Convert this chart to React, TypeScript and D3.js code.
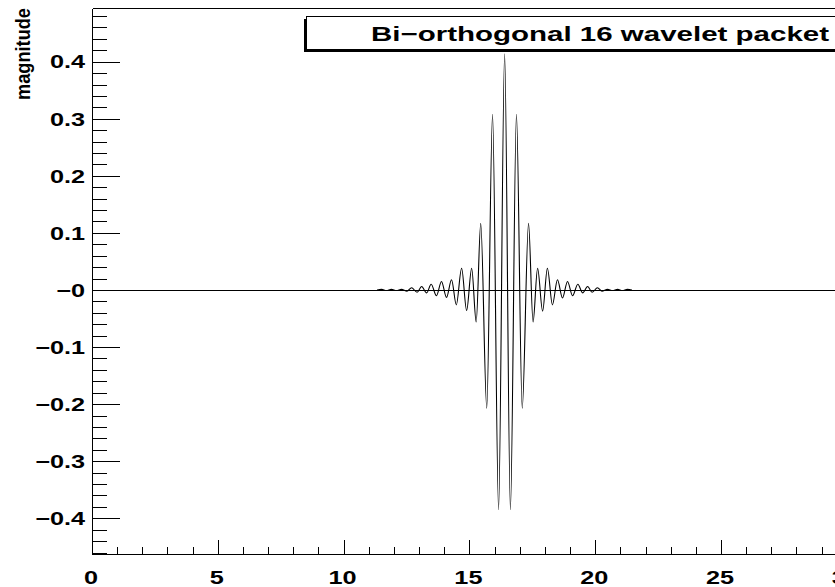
import React from 'react';
import * as d3 from 'd3';

// Extrema of the wavelet packet (x in axis units, y = magnitude)
const packetX = [
  11.33, 11.51, 11.7, 11.9, 12.1, 12.3, 12.52, 12.7, 12.92, 13.1,
  13.3, 13.48, 13.69, 13.89, 14.09, 14.29, 14.48, 14.69, 14.89, 15.09,
  15.27, 15.45, 15.69, 15.92, 16.16, 16.4, 16.63, 16.87, 17.1, 17.35,
  17.53, 17.71, 17.91, 18.1, 18.3, 18.5, 18.7, 18.9, 19.1, 19.31,
  19.5, 19.7, 19.88, 20.09, 20.27, 20.49, 20.69, 20.89, 21.08, 21.28, 21.46,
];
const packetY = [
  0, 0.001, -0.001, 0.001, -0.001, 0.001, -0.002, 0.004, -0.004, 0.006,
  -0.005, 0.01, -0.01, 0.015, -0.013, 0.018, -0.026, 0.038, -0.036, 0.038,
  -0.056, 0.117, -0.207, 0.308, -0.385, 0.414, -0.385, 0.308, -0.207, 0.117,
  -0.056, 0.038, -0.037, 0.038, -0.026, 0.018, -0.014, 0.015, -0.01, 0.01,
  -0.005, 0.006, -0.004, 0.004, -0.002, 0.001, -0.001, 0.001, -0.001, 0.001, 0,
];

const xMajorTicks = [0, 5, 10, 15, 20, 25, 30];
const xTickLabels = ['0', '5', '10', '15', '20', '25', '30'];
const yMajorTicks = [-0.4, -0.3, -0.2, -0.1, 0, 0.1, 0.2, 0.3, 0.4];
const yTickLabels = ['−0.4', '−0.3', '−0.2', '−0.1', '−0', '0.1', '0.2', '0.3', '0.4'];
const titleText = 'Bi−orthogonal 16 wavelet packet';
const yAxisTitle = 'magnitude';
const xDomain = [0, 32];
const yDomain = [-0.462, 0.4935];

const W = 835;
const H = 587;
const FONT = '"Liberation Sans", Arial, Helvetica, sans-serif';

export default function App() {
  const left = 92;
  const top = 8.3;
  const bottom = 553.7;
  const x = d3.scaleLinear().domain(xDomain).range([left, left + 32 * 25.16]);
  const y = d3.scaleLinear().domain(yDomain).range([bottom, top]);

  const pts: [number, number][] = packetX.map((v, i) => [v, packetY[i]]);
  const line = d3
    .line<[number, number]>()
    .x((d) => x(d[0]))
    .y((d) => y(d[1]))
    .curve(d3.curveMonotoneX);

  const xMinor = d3.range(0, 33, 1).filter((v) => v % 5 !== 0);
  const yMinor = d3
    .range(-23, 25, 1)
    .map((k) => k * 0.02)
    .filter((v) => Math.abs(Math.round(v * 50)) % 5 !== 0 && v >= yDomain[0] && v <= yDomain[1]);

  const rx = (v: number) => Math.round(v) + 0.5;

  return (
    <svg
      width={W}
      height={H}
      style={{ position: 'fixed', left: 0, top: 0, background: '#fff' }}
      fontFamily={FONT}
    >
      <rect x={0} y={0} width={W} height={H} fill="#fff" />
      <defs>
        <clipPath id="frameClip">
          <rect x={left} y={top} width={W - left} height={bottom - top} />
        </clipPath>
      </defs>

      {/* frame */}
      <g stroke="#000" strokeWidth={1} shapeRendering="crispEdges" fill="none">
        <line x1={rx(left)} x2={W} y1={rx(top)} y2={rx(top)} />
        <line x1={rx(left)} x2={W} y1={rx(bottom)} y2={rx(bottom)} />
        <line x1={rx(left)} x2={rx(left)} y1={rx(top)} y2={rx(bottom)} />
        {/* zero line */}
        <line x1={rx(left)} x2={W} y1={rx(y(0))} y2={rx(y(0))} />
        {/* y ticks */}
        {yMajorTicks.map((v) => (
          <line key={'ym' + v} x1={rx(left)} x2={rx(left) + 27} y1={rx(y(v))} y2={rx(y(v))} />
        ))}
        {yMinor.map((v) => (
          <line key={'yn' + v} x1={rx(left)} x2={rx(left) + 14} y1={rx(y(v))} y2={rx(y(v))} />
        ))}
        {/* x ticks */}
        {xMajorTicks.map((v) => (
          <line key={'xm' + v} x1={rx(x(v))} x2={rx(x(v))} y1={rx(bottom)} y2={rx(bottom) - 15} />
        ))}
        {xMinor.map((v) => (
          <line key={'xn' + v} x1={rx(x(v))} x2={rx(x(v))} y1={rx(bottom)} y2={rx(bottom) - 8} />
        ))}
      </g>

      {/* curve */}
      <g clipPath="url(#frameClip)">
        <path d={line(pts) || ''} fill="none" stroke="#000" strokeWidth={1.1} />
      </g>

      {/* y tick labels */}
      {yMajorTicks.map((v, i) => (
        <text
          key={'yl' + v}
          transform={`translate(85,${y(v) + 6.8}) scale(1.33,1)`}
          textAnchor="end"
          fontSize={19}
          fontWeight="bold"
          fill="#000"
        >
          {yTickLabels[i]}
        </text>
      ))}

      {/* x tick labels */}
      {xMajorTicks.map((v, i) => (
        <text
          key={'xl' + v}
          transform={`translate(${x(v) - 1},584) scale(1.33,1)`}
          textAnchor="middle"
          fontSize={19}
          fontWeight="bold"
          fill="#000"
        >
          {xTickLabels[i]}
        </text>
      ))}

      {/* y axis title */}
      <text
        transform="translate(29.5,8) rotate(-90)"
        textAnchor="end"
        fontSize={20}
        fontWeight="bold"
        textLength={92}
        lengthAdjust="spacingAndGlyphs"
        fill="#000"
      >
        {yAxisTitle}
      </text>

      {/* title box */}
      <rect x={304} y={19} width={600} height={33} fill="#000" />
      <rect x={306.5} y={16.5} width={600} height={33} fill="#fff" stroke="#000" strokeWidth={1} shapeRendering="crispEdges" />
      <text
        x={371}
        y={41}
        fontSize={21}
        fontWeight="bold"
        textLength={458}
        lengthAdjust="spacingAndGlyphs"
        fill="#000"
      >
        {titleText}
      </text>
    </svg>
  );
}
